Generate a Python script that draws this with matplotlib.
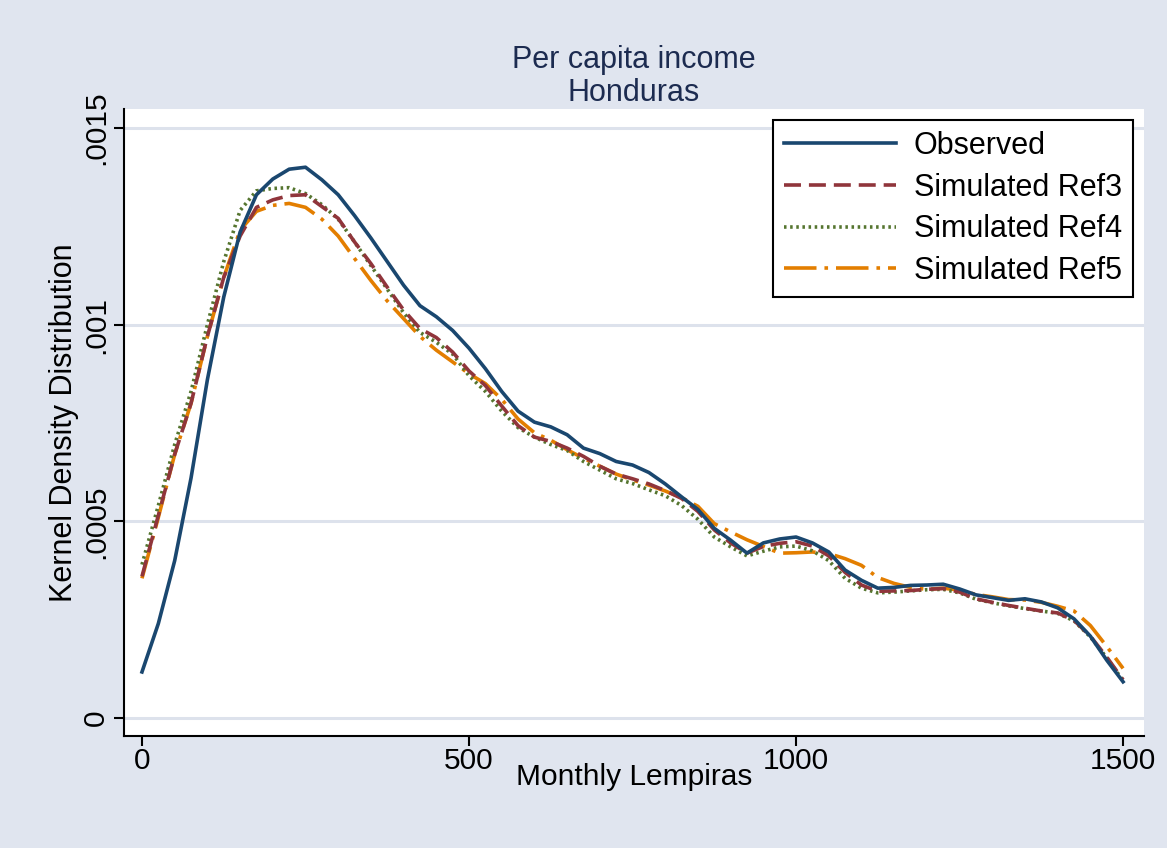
import matplotlib
matplotlib.use("Agg")
import matplotlib.pyplot as plt
from matplotlib.ticker import FixedLocator

plt.rcParams['font.family'] = ['Liberation Sans', 'DejaVu Sans']

# ---- data (density values in units of 1e-4) ----
income = [0, 25, 50, 75, 100, 125, 150, 175, 200, 225, 250, 275, 300, 325, 350,
          375, 400, 425, 450, 475, 500, 525, 550, 575, 600, 625, 650, 675, 700,
          725, 750, 775, 800, 825, 850, 875, 900, 925, 950, 975, 1000, 1025, 1050,
          1075, 1100, 1125, 1150, 1175, 1200, 1225, 1250, 1275, 1300, 1325, 1350,
          1375, 1400, 1425, 1450, 1475, 1500]

observed = [1.17, 2.4, 4.0, 6.1, 8.6, 10.7, 12.35, 13.3, 13.7, 13.95, 14.0, 13.68,
            13.3, 12.77, 12.2, 11.6, 11.0, 10.48, 10.2, 9.85, 9.4, 8.88, 8.3, 7.8,
            7.52, 7.4, 7.2, 6.86, 6.72, 6.52, 6.43, 6.24, 5.95, 5.62, 5.3, 4.82,
            4.52, 4.19, 4.45, 4.55, 4.6, 4.45, 4.22, 3.76, 3.5, 3.3, 3.32, 3.37,
            3.38, 3.4, 3.28, 3.13, 3.06, 2.99, 3.03, 2.95, 2.8, 2.52, 2.08, 1.47, 0.92]

ref3 = [3.6, 5.15, 6.7, 8.0, 9.7, 11.2, 12.25, 12.98, 13.17, 13.28, 13.3, 13.0,
        12.7, 12.1, 11.55, 10.95, 10.37, 9.9, 9.67, 9.3, 8.82, 8.45, 7.93, 7.43,
        7.14, 7.03, 6.86, 6.65, 6.4, 6.2, 6.08, 5.95, 5.78, 5.58, 5.25, 4.78,
        4.45, 4.19, 4.36, 4.44, 4.48, 4.37, 4.12, 3.7, 3.38, 3.22, 3.23, 3.24,
        3.27, 3.29, 3.2, 3.03, 2.94, 2.86, 2.79, 2.72, 2.67, 2.48, 2.08, 1.55, 0.97]

ref4 = [3.9, 5.4, 6.95, 8.3, 10.0, 11.6, 12.9, 13.4, 13.46, 13.48, 13.33, 13.05,
        12.68, 12.1, 11.5, 10.9, 10.3, 9.8, 9.55, 9.25, 8.7, 8.3, 7.8, 7.38,
        7.14, 6.95, 6.8, 6.52, 6.3, 6.08, 5.96, 5.8, 5.65, 5.4, 5.05, 4.6,
        4.35, 4.12, 4.24, 4.35, 4.37, 4.25, 4.0, 3.55, 3.3, 3.18, 3.2, 3.23,
        3.26, 3.27, 3.18, 3.02, 2.93, 2.85, 2.78, 2.72, 2.66, 2.47, 2.06, 1.53, 0.95]

ref5 = [3.55, 5.1, 6.7, 8.0, 9.7, 11.2, 12.4, 12.88, 13.03, 13.08, 12.98, 12.68,
        12.25, 11.68, 11.12, 10.6, 10.15, 9.7, 9.35, 9.05, 8.75, 8.5, 8.1, 7.6,
        7.25, 7.06, 6.82, 6.6, 6.4, 6.2, 6.05, 5.92, 5.77, 5.6, 5.38, 4.94,
        4.73, 4.53, 4.36, 4.19, 4.2, 4.22, 4.18, 4.05, 3.88, 3.57, 3.42, 3.32,
        3.27, 3.3, 3.25, 3.14, 3.08, 3.01, 3.0, 2.94, 2.84, 2.72, 2.35, 1.82, 1.26]

series_labels = ["Observed", "Simulated Ref3", "Simulated Ref4", "Simulated Ref5"]
x_ticks = [0, 500, 1000, 1500]
y_ticks = [0, 0.0005, 0.001, 0.0015]
y_tick_labels = ["0", ".0005", ".001", ".0015"]
UNIT = 1e-4

# ---- styling ----
bg = "#E0E5EF"
navy = "#1A476F"
maroon = "#90353B"
green = "#55752F"
orange = "#E37E00"
title_col = "#1C2B50"

fig = plt.figure(figsize=(11.67, 8.48), dpi=100, facecolor=bg)
ax = fig.add_axes([124/1167, 1 - 736/848, (1144-124)/1167, (736-109)/848])
ax.set_facecolor("white")

def scaled(v):
    return [val * UNIT for val in v]

lw = 2.6
ax.plot(income, scaled(observed), color=navy, lw=lw, ls='-', label=series_labels[0], zorder=5)
ax.plot(income, scaled(ref3), color=maroon, lw=lw, ls=(0, (4.7, 2.2)), label=series_labels[1], zorder=4)
ax.plot(income, scaled(ref4), color=green, lw=lw, ls=(0, (0.7, 1.0)), label=series_labels[2], zorder=3)
ax.plot(income, scaled(ref5), color=orange, lw=lw, ls=(0, (9, 2.2, 1, 2.2)), label=series_labels[3], zorder=2)

ax.set_xlim(-27.5, 1532)
ax.set_ylim(-0.0000458, 0.001548)

ax.xaxis.set_major_locator(FixedLocator(x_ticks))
ax.yaxis.set_major_locator(FixedLocator(y_ticks))
ax.set_xticklabels([str(t) for t in x_ticks])
ax.set_yticklabels(y_tick_labels, rotation=90, va='center')

ax.grid(axis='y', color="#DDE2EC", lw=2.2, zorder=0)
ax.set_axisbelow(True)

for s in ['top', 'right']:
    ax.spines[s].set_visible(False)
for s in ['left', 'bottom']:
    ax.spines[s].set_color('black')
    ax.spines[s].set_linewidth(1.5)

ax.tick_params(axis='both', length=7, width=1.5, color='black', labelsize=21.5,
               labelcolor='black')
ax.tick_params(axis='x', pad=1)
ax.tick_params(axis='y', pad=3)

ax.set_xlabel("Monthly Lempiras", fontsize=21.5, color='black', labelpad=-9)
ax.set_ylabel("Kernel Density Distribution", fontsize=22, color='black', labelpad=2)
ax.set_title("Per capita income\nHonduras", fontsize=22, color=title_col,
             linespacing=1.12, pad=6)

leg = ax.legend(loc='upper right', bbox_to_anchor=(0.989, 0.982), fontsize=22,
                frameon=True, fancybox=False, handlelength=3.66, handletextpad=0.6,
                borderpad=0.35, labelspacing=0.38, borderaxespad=0)
leg.get_frame().set_edgecolor('black')
leg.get_frame().set_linewidth(1.5)
leg.get_frame().set_alpha(1)

fig.savefig("out.png", dpi=100, facecolor=bg)
